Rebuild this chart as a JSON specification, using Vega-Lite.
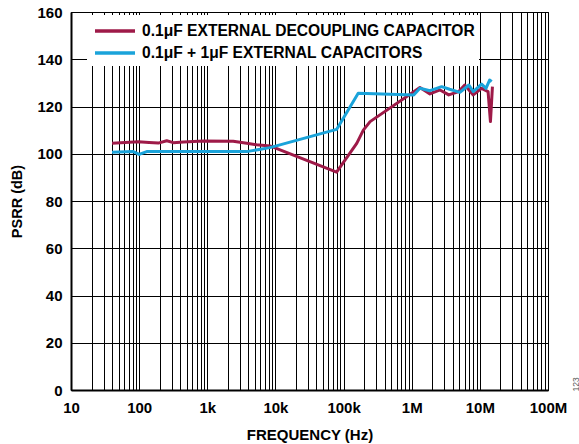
{
  "$schema": "https://vega.github.io/schema/vega-lite/v6.json",
  "width": 477,
  "height": 378,
  "autosize": "none",
  "padding": {"left": 71, "top": 12, "right": 31, "bottom": 54},
  "background": "white",
  "config": {
    "font": "Liberation Sans",
    "view": {"stroke": "black", "strokeWidth": 1},
    "axis": {"labelFont": "Liberation Sans", "titleFont": "Liberation Sans"}
  },
  "data": {
    "values": [
      {"s": "A", "f": 40, "v": 104.4},
      {"s": "A", "f": 97, "v": 105.1},
      {"s": "A", "f": 140, "v": 104.8},
      {"s": "A", "f": 191, "v": 104.5},
      {"s": "A", "f": 254, "v": 105.5},
      {"s": "A", "f": 318, "v": 104.7},
      {"s": "A", "f": 450, "v": 105.0},
      {"s": "A", "f": 875, "v": 105.4},
      {"s": "A", "f": 2400, "v": 105.3},
      {"s": "A", "f": 3800, "v": 104.4},
      {"s": "A", "f": 5300, "v": 103.8},
      {"s": "A", "f": 8300, "v": 103.3},
      {"s": "A", "f": 79000, "v": 92.2},
      {"s": "A", "f": 156000, "v": 104.4},
      {"s": "A", "f": 195000, "v": 110},
      {"s": "A", "f": 245000, "v": 113.6},
      {"s": "A", "f": 1320000, "v": 128},
      {"s": "A", "f": 1850000, "v": 125.3},
      {"s": "A", "f": 2600000, "v": 127},
      {"s": "A", "f": 3500000, "v": 124.9},
      {"s": "A", "f": 4900000, "v": 126.3},
      {"s": "A", "f": 6000000, "v": 129.1},
      {"s": "A", "f": 8000000, "v": 124.9},
      {"s": "A", "f": 10600000, "v": 127.7},
      {"s": "A", "f": 13200000, "v": 126.3},
      {"s": "A", "f": 14300000, "v": 113.6},
      {"s": "A", "f": 15300000, "v": 128.4},
      {"s": "B", "f": 40, "v": 100.6},
      {"s": "B", "f": 82, "v": 100.9},
      {"s": "B", "f": 100, "v": 99.7},
      {"s": "B", "f": 129, "v": 100.9},
      {"s": "B", "f": 3800, "v": 100.9},
      {"s": "B", "f": 8300, "v": 102.6},
      {"s": "B", "f": 79000, "v": 110.3},
      {"s": "B", "f": 164000, "v": 125.6},
      {"s": "B", "f": 1070000, "v": 124.9},
      {"s": "B", "f": 1320000, "v": 127.7},
      {"s": "B", "f": 1850000, "v": 126.7},
      {"s": "B", "f": 2750000, "v": 128.4},
      {"s": "B", "f": 3600000, "v": 127.3},
      {"s": "B", "f": 5100000, "v": 126},
      {"s": "B", "f": 6900000, "v": 129.1},
      {"s": "B", "f": 8000000, "v": 126.3},
      {"s": "B", "f": 10600000, "v": 129.5},
      {"s": "B", "f": 12300000, "v": 127.7},
      {"s": "B", "f": 13900000, "v": 131.2},
      {"s": "B", "f": 14900000, "v": 130.5}
    ]
  },
  "layer": [
    {
      "mark": {"type": "line", "strokeWidth": 3, "strokeJoin": "round"},
      "encoding": {
        "x": {
          "field": "f", "type": "quantitative",
          "scale": {"type": "log", "domain": [10, 100000000], "nice": false},
          "axis": {
            "title": "FREQUENCY (Hz)",
            "values": [10,20,30,40,50,60,70,80,90,100,200,300,400,500,600,700,800,900,1000,2000,3000,4000,5000,6000,7000,8000,9000,10000,20000,30000,40000,50000,60000,70000,80000,90000,100000,200000,300000,400000,500000,600000,700000,800000,900000,1000000,2000000,3000000,4000000,5000000,6000000,7000000,8000000,9000000,10000000,20000000,30000000,40000000,50000000,60000000,70000000,80000000,90000000,100000000],
            "labelExpr": "datum.value==10?'10':datum.value==100?'100':datum.value==1000?'1k':datum.value==10000?'10k':datum.value==100000?'100k':datum.value==1000000?'1M':datum.value==10000000?'10M':datum.value==100000000?'100M':''",
            "labelOverlap": false,
            "labelFlush": false,
            "ticks": false,
            "labelPadding": 10,
            "labelFontSize": 15,
            "labelFontWeight": "bold",
            "labelColor": "black",
            "titleFontSize": 15,
            "titleFontWeight": "bold",
            "titleColor": "black",
            "titlePadding": 12,
            "grid": true,
            "gridColor": "black",
            "gridOpacity": 1,
            "gridWidth": 1,
            "domainColor": "black",
            "domainWidth": 2
          }
        },
        "y": {
          "field": "v", "type": "quantitative",
          "scale": {"domain": [0, 160], "nice": false},
          "axis": {
            "title": "PSRR (dB)",
            "values": [0,20,40,60,80,100,120,140,160],
            "ticks": false,
            "labelPadding": 9,
            "labelFontSize": 15,
            "labelFontWeight": "bold",
            "labelColor": "black",
            "titleFontSize": 14.5,
            "titleFontWeight": "bold",
            "titleColor": "black",
            "titlePadding": 12,
            "grid": true,
            "gridColor": "black",
            "gridOpacity": 1,
            "gridWidth": 1.2,
            "domainColor": "black",
            "domainWidth": 2
          }
        },
        "color": {
          "field": "s", "type": "nominal",
          "scale": {"domain": ["A", "B"], "range": ["#9E1A48", "#1AA3DA"]},
          "legend": {
            "orient": "none",
            "legendX": 16,
            "legendY": 3,
            "title": null,
            "fillColor": "white",
            "padding": 4,
            "symbolType": "M-2,0H2",
            "symbolSize": 400,
            "symbolStrokeWidth": 3.5,
            "symbolOffset": 12,
            "labelExpr": "datum.value=='A'?'0.1μF EXTERNAL DECOUPLING CAPACITOR':'0.1μF + 1μF EXTERNAL CAPACITORS'",
            "labelFontSize": 15.6,
            "labelFontWeight": "bold",
            "labelColor": "black",
            "labelLimit": 500,
            "rowPadding": 1,
            "labelOffset": 15
          }
        }
      }
    },
    {
      "mark": {"type": "line", "opacity": 0},
      "encoding": {
        "x": {"field": "f", "type": "quantitative", "scale": {"type": "log", "domain": [10, 100000000], "nice": false}},
        "y": {
          "field": "v", "type": "quantitative",
          "axis": {
            "orient": "right",
            "title": "123",
            "titleAngle": 270,
            "titleAnchor": "start",
            "titleFontSize": 8.5,
            "titleFontWeight": "normal",
            "titleColor": "#555555",
            "titlePadding": 32,
            "titleY": 379,
            "labels": false,
            "ticks": false,
            "domain": false,
            "grid": false
          }
        }
      }
    }
  ],
  "resolve": {"axis": {"y": "independent"}}
}
